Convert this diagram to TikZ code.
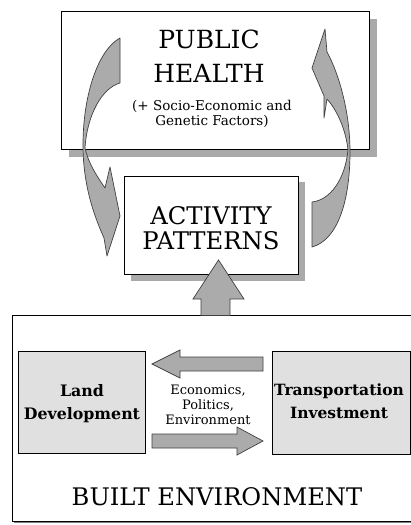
\documentclass[tikz,border=0pt]{standalone}
\usepackage{fontspec}
\setmainfont{DejaVu Serif}
\newfontfamily\djs{DejaVu Serif}
\usetikzlibrary{shadows}
\definecolor{arrowfill}{HTML}{ABABAB}
\definecolor{arrowedge}{HTML}{404040}
\definecolor{boxfill}{HTML}{E0E0E0}
\definecolor{shadowgray}{HTML}{AAAAAA}
\definecolor{darkshadow}{HTML}{5A5A5A}
\tikzset{
  bigbox/.style={draw=black, line width=0.9pt, fill=white, inner sep=0pt},
  greybox/.style={draw=black, line width=0.9pt, fill=boxfill, inner sep=0pt},
  blockarrow/.style={draw=arrowedge, line width=0.7pt, fill=arrowfill, line join=miter},
  lbl/.style={inner sep=0pt, align=center, text=black},
}
\begin{document}
\begin{tikzpicture}[x=1pt,y=-1pt]
\useasboundingbox (0,0) rectangle (411,525);
\clip (0,0) rectangle (411,525);

% shadows
\fill[shadowgray] (69,19) rectangle (377,157);
\fill[shadowgray] (131,182) rectangle (305,281);
\fill[darkshadow] (21,354) rectangle (149,457);
\fill[darkshadow] (275,354) rectangle (414,457);
\fill[gray] (14,317) rectangle (430,523);

% boxes
\node[bigbox, minimum width=308pt, minimum height=138pt] (ph) at (215,80) {};
\node[bigbox, minimum width=174pt, minimum height=98pt] (ap) at (211,225) {};
\node[bigbox, minimum width=418pt, minimum height=206pt] (be) at (221,418) {};
\node[greybox, minimum width=127pt, minimum height=102pt] (ld) at (81.5,402) {};
\node[greybox, minimum width=138pt, minimum height=103pt] (ti) at (341,402.5) {};

% texts
\node[lbl, font=\djs\fontsize{25}{34}\selectfont] (phtxt) at (209,56) {PUBLIC\\HEALTH};
\node[lbl, font=\djs\fontsize{13.5}{15}\selectfont] (phsub) at (212,114.3) {(+ Socio-Economic and\\Genetic Factors)};
\node[lbl, font=\djs\fontsize{24.3}{25}\selectfont] (aptxt) at (211,228.5) {ACTIVITY\\PATTERNS};
\node[lbl, font=\djs\fontsize{15.8}{23}\selectfont\bfseries] (ldtxt) at (82,403.3) {Land\\Development};
\node[lbl, font=\djs\fontsize{15.5}{23}\selectfont\bfseries] (titxt) at (339,401.3) {Transportation\\Investment};
\node[lbl, font=\djs\fontsize{13}{15}\selectfont] (mid) at (208,405) {Economics,\\Politics,\\Environment};
\node[lbl, font=\djs\fontsize{24.2}{30}\selectfont] (betxt) at (217,497) {BUILT ENVIRONMENT};

% up arrow from built environment to activity patterns
\draw[blockarrow] (201,315.5) -- (201,299) -- (193,299) -- (218.5,260) -- (244,299) -- (230,299) -- (230,315.5) -- cycle;

% horizontal arrows
\draw[blockarrow] (263,357) -- (180,357) -- (180,350) -- (152,364) -- (180,378) -- (180,371) -- (263,371) -- cycle;
\draw[blockarrow] (152,434) -- (237,434) -- (237,427) -- (263,441) -- (237,455) -- (237,448) -- (152,448) -- cycle;

% left curved arrow (public health -> activity patterns)
\draw[blockarrow, line join=round] (120,38)
  .. controls (98,50) and (83,95) .. (83,145)
  .. controls (83,190) and (97,222) .. (104,238)
  -- (107,256) -- (120,216) -- (110,167) -- (105,188)
  .. controls (96,175) and (88,162) .. (85,148)
  .. controls (87,115) and (102,88) .. (120,83)
  -- cycle;

% right curved arrow (activity patterns -> public health)
\draw[blockarrow, line join=round] (312,247)
  .. controls (338,240) and (350,200) .. (350,152)
  .. controls (350,110) and (338,72) .. (327,52)
  -- (325,29) -- (312,68) -- (324,96) -- (324,118) -- (327,99)
  .. controls (337,110) and (346,130) .. (348,150)
  .. controls (345,180) and (330,200) .. (312,202)
  -- cycle;
\end{tikzpicture}
\end{document}
